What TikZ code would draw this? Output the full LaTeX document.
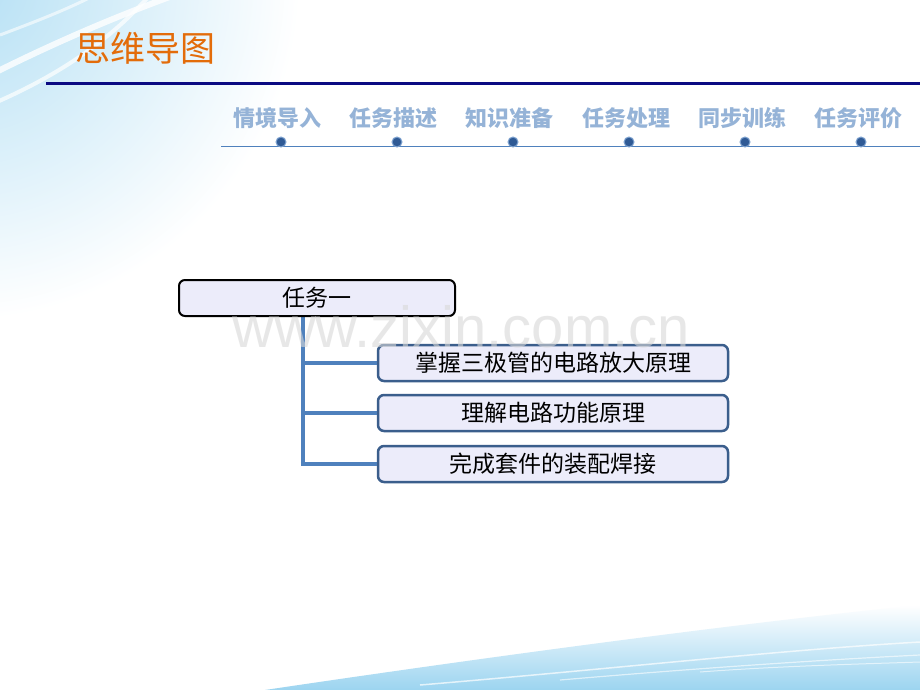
\documentclass[tikz,border=0pt]{standalone}
\usepackage{fontspec}
\setmainfont{Liberation Sans}
\newfontfamily\cjk{Noto Sans CJK SC}
\usetikzlibrary{shadings}
\definecolor{titleorange}{HTML}{E36C0A}
\definecolor{navyline}{HTML}{0A0A82}
\definecolor{navtext}{HTML}{95B3D7}
\definecolor{navline}{HTML}{4F81BD}
\definecolor{dotfill}{HTML}{2F5A95}
\definecolor{dotedge}{HTML}{7FA3D0}
\definecolor{connblue}{HTML}{4F81BD}
\definecolor{childedge}{HTML}{3B5E8C}
\definecolor{boxfill}{HTML}{ECECFA}
\definecolor{skyblue}{HTML}{B3DFF4}
\definecolor{skydeep}{HTML}{9CD4F0}
\definecolor{wmgray}{HTML}{D8D8D8}
\tikzset{
  navlabel/.style={text=navtext, font=\cjk\bfseries\fontsize{22}{22}\selectfont, inner sep=0pt},
  navdot/.style={circle, fill=dotfill, draw=dotedge, line width=1pt, minimum size=10pt, inner sep=0pt},
  rootbox/.style={draw=black, line width=2pt, fill=boxfill, rounded corners=6pt, minimum width=276pt, minimum height=36pt, inner sep=0pt, font=\cjk\fontsize{23}{23}\selectfont},
  childbox/.style={draw=childedge, line width=2.5pt, fill=boxfill, rounded corners=6pt, minimum width=350pt, minimum height=36pt, inner sep=0pt, font=\cjk\fontsize{23}{23}\selectfont},
  conn/.style={draw=connblue, line width=3.5pt},
}
\begin{document}
\begin{tikzpicture}[x=1pt,y=-1pt]
\useasboundingbox (0,0) rectangle (920,690);
\fill[white] (0,0) rectangle (920,690);
% top-left sky shading
\begin{scope}
\clip (0,0) rectangle (920,690);
\shade[inner color=skyblue, outer color=white] (-40,-20) circle (340);
\draw[white, line width=6pt, opacity=0.8] (-10,75) .. controls (60,40) and (120,15) .. (175,-5);
\draw[white, line width=4pt, opacity=0.7] (-10,105) .. controls (60,75) and (110,40) .. (150,-5);
\draw[white, line width=3pt, opacity=0.6] (0,35) .. controls (40,20) and (70,8) .. (95,-5);
% bottom-right sky shading
\shade[top color=white, bottom color=skydeep] (265,690) .. controls (500,655) and (750,622) .. (920,605) -- (920,690) -- cycle;
\draw[white, line width=1.5pt, opacity=0.7] (420,685) .. controls (600,670) and (780,650) .. (920,642);
\draw[white, line width=1.2pt, opacity=0.6] (560,680) .. controls (700,668) and (820,660) .. (920,655);
\draw[white, line width=1pt, opacity=0.6] (700,672) .. controls (780,666) and (860,664) .. (920,662);
\end{scope}
% title
\node[anchor=west, text=titleorange, font=\cjk\fontsize{35}{35}\selectfont, inner sep=0pt] (title) at (75,48) {思维导图};
\coordinate (hl) at (46,84);
\coordinate (hr) at (920,84);
\draw[navyline, line width=3pt] (hl) -- (hr);
% navigation
\coordinate (nl) at (221,146);
\coordinate (nr) at (920,146);
\draw[navline, line width=0.9pt] (nl) -- (nr);
\node[navlabel] (n1) at (277,118) {情境导入};
\node[navlabel] (n2) at (393,118) {任务描述};
\node[navlabel] (n3) at (509,118) {知识准备};
\node[navlabel] (n4) at (626,118) {任务处理};
\node[navlabel] (n5) at (742,118) {同步训练};
\node[navlabel] (n6) at (858,118) {任务评价};
\node[navdot] (d1) at (281,142) {};
\node[navdot] (d2) at (397,142) {};
\node[navdot] (d3) at (513,142) {};
\node[navdot] (d4) at (629,142) {};
\node[navdot] (d5) at (745,142) {};
\node[navdot] (d6) at (861,142) {};
% mind map
\coordinate (top) at (303,316);
\coordinate (j1) at (303,363);
\coordinate (j2) at (303,413);
\coordinate (j3) at (303,464);
\node[childbox] (c1) at (553,363) {掌握三极管的电路放大原理};
\node[childbox] (c2) at (553,413) {理解电路功能原理};
\node[childbox] (c3) at (553,464) {完成套件的装配焊接};
\draw[connblue, line width=4.5pt] (top) -- ([yshift=1.75pt]j3);
\draw[conn] (j1) -- (c1.west);
\draw[conn] (j2) -- (c2.west);
\draw[conn] ([xshift=-2.25pt]j3) -- (c3.west);
\node[rootbox] (root) at (317,298) {任务一};
% watermark
\node[text=wmgray, opacity=0.6, font=\fontsize{58}{58}\selectfont, inner sep=0pt, anchor=base west] (wm) at (232,347) {www.zixin.com.cn};
\end{tikzpicture}
\end{document}
